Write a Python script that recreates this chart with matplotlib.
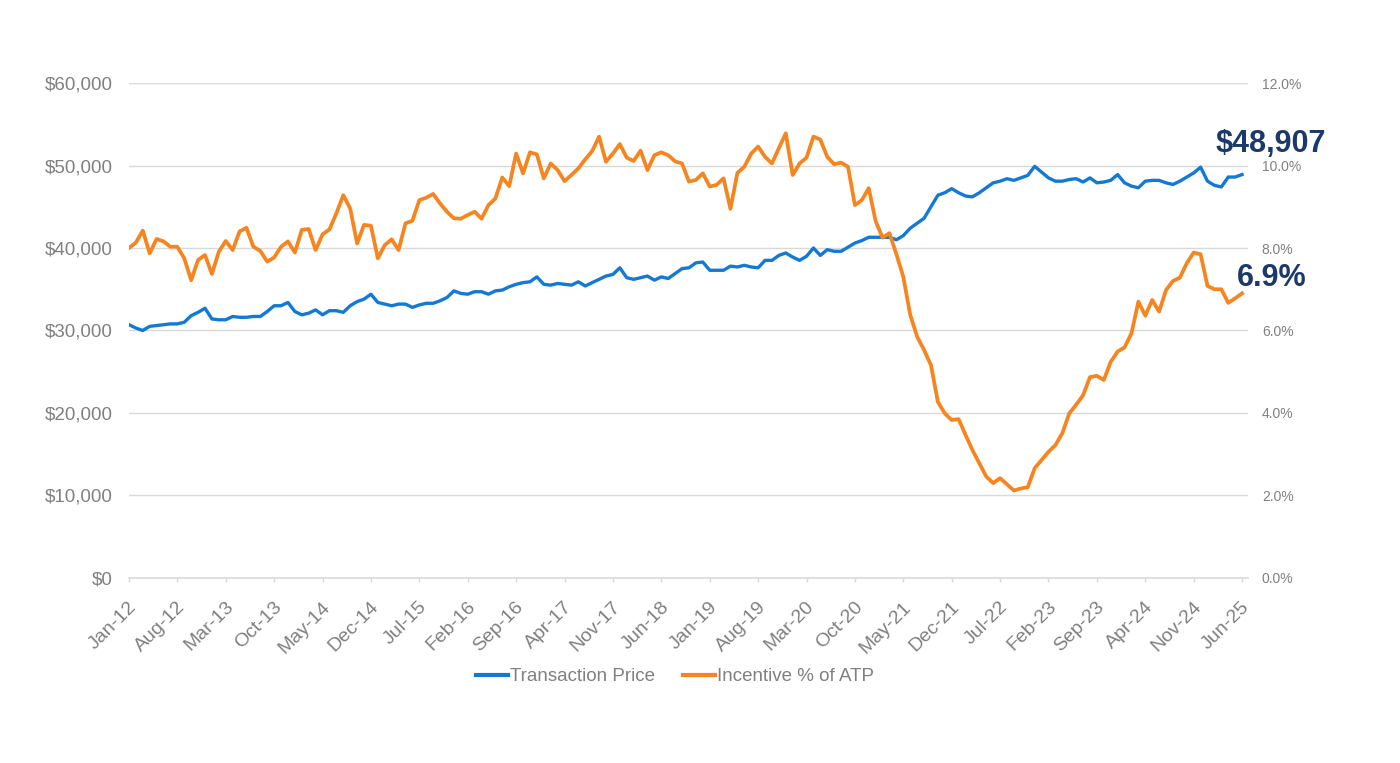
import numpy as np
import pandas as pd
import matplotlib
matplotlib.use("Agg")
import matplotlib.pyplot as plt
import matplotlib.transforms as mtransforms
from matplotlib.ticker import FuncFormatter

plt.rcParams['font.family'] = ['Liberation Sans', 'DejaVu Sans']

# monthly, Jan-12 .. Jun-25
months = pd.date_range("2012-01-01", periods=162, freq="MS")

# average transaction price, $ thousands
atp_k = [
    30.7, 30.3, 30.0, 30.5, 30.6, 30.7, 30.8, 30.8, 31.0, 31.8,
    32.2, 32.7, 31.4, 31.3, 31.3, 31.7, 31.6, 31.6, 31.7, 31.7,
    32.3, 33.0, 33.0, 33.4, 32.3, 31.9, 32.1, 32.5, 31.9, 32.4,
    32.4, 32.2, 33.0, 33.5, 33.8, 34.4, 33.4, 33.2, 33.0, 33.2,
    33.2, 32.8, 33.1, 33.3, 33.3, 33.6, 34.0, 34.8, 34.5, 34.4,
    34.7, 34.7, 34.4, 34.8, 34.9, 35.3, 35.6, 35.8, 35.9, 36.5,
    35.6, 35.5, 35.7, 35.6, 35.5, 35.9, 35.4, 35.8, 36.2, 36.6,
    36.8, 37.6, 36.4, 36.2, 36.4, 36.6, 36.1, 36.5, 36.3, 36.9,
    37.5, 37.6, 38.2, 38.3, 37.3, 37.3, 37.3, 37.8, 37.7, 37.9,
    37.7, 37.6, 38.5, 38.5, 39.1, 39.4, 38.9, 38.5, 39.0, 40.0,
    39.1, 39.8, 39.6, 39.6, 40.1, 40.6, 40.9, 41.3, 41.3, 41.3,
    41.3, 41.0, 41.5, 42.4, 43.0, 43.6, 45.0, 46.4, 46.7, 47.2,
    46.7, 46.3, 46.2, 46.7, 47.3, 47.9, 48.1, 48.4, 48.2, 48.5,
    48.8, 49.9, 49.2, 48.5, 48.1, 48.1, 48.3, 48.4, 48.0, 48.5,
    47.9, 48.0, 48.2, 48.9, 47.9, 47.5, 47.3, 48.1, 48.2, 48.2,
    47.9, 47.7, 48.1, 48.6, 49.1, 49.8, 48.1, 47.6, 47.4, 48.6,
    48.6, 48.907,
]

# incentive spend as % of ATP
incentive_pct = [
    8.00, 8.13, 8.42, 7.87, 8.22, 8.16, 8.03, 8.03, 7.75, 7.22,
    7.71, 7.83, 7.37, 7.91, 8.17, 7.95, 8.40, 8.49, 8.03, 7.93,
    7.67, 7.77, 8.03, 8.16, 7.89, 8.44, 8.46, 7.95, 8.33, 8.45,
    8.84, 9.28, 8.96, 8.11, 8.56, 8.54, 7.75, 8.07, 8.21, 7.95,
    8.60, 8.66, 9.16, 9.22, 9.31, 9.08, 8.88, 8.72, 8.71, 8.80,
    8.88, 8.71, 9.04, 9.20, 9.71, 9.50, 10.29, 9.81, 10.32, 10.27,
    9.69, 10.05, 9.89, 9.62, 9.77, 9.93, 10.15, 10.35, 10.70, 10.09,
    10.29, 10.52, 10.19, 10.11, 10.36, 9.89, 10.25, 10.32, 10.25, 10.10,
    10.05, 9.61, 9.65, 9.81, 9.49, 9.53, 9.69, 8.95, 9.82, 9.97,
    10.29, 10.46, 10.21, 10.05, 10.42, 10.78, 9.77, 10.05, 10.19, 10.70,
    10.63, 10.21, 10.03, 10.07, 9.97, 9.04, 9.16, 9.45, 8.65, 8.25,
    8.36, 7.85, 7.30, 6.38, 5.85, 5.53, 5.16, 4.27, 3.99, 3.83,
    3.85, 3.47, 3.10, 2.78, 2.46, 2.30, 2.42, 2.27, 2.12, 2.17,
    2.20, 2.66, 2.86, 3.06, 3.22, 3.51, 3.99, 4.20, 4.43, 4.87,
    4.90, 4.80, 5.24, 5.49, 5.59, 5.93, 6.70, 6.36, 6.74, 6.46,
    6.98, 7.20, 7.28, 7.63, 7.89, 7.85, 7.08, 7.00, 7.00, 6.67,
    6.78, 6.90,
]

atp_label = "$48,907"
inc_label = "6.9%"

BLUE = "#1379D6"
ORANGE = "#F6851F"
NAVY = "#1B3A6B"
GRAY = "#808080"
GRID = "#D9D9D9"

x = np.arange(len(months))
atp = np.array(atp_k) * 1000
inc = np.array(incentive_pct) / 100

fig = plt.figure(figsize=(14, 7.63), dpi=100)
ax = fig.add_axes([0.0921, 0.2425, 0.7993, 0.6487])
ax2 = ax.twinx()

l1, = ax.plot(x, atp, color=BLUE, lw=2.4, solid_joinstyle="round", zorder=3)
l2, = ax2.plot(x, inc, color=ORANGE, lw=2.7, solid_joinstyle="round", zorder=3)

ax.set_xlim(0, 161.85)
ax.set_ylim(0, 60000)
ax2.set_ylim(0, 0.12)
ax.set_yticks(np.arange(0, 60001, 10000))
ax2.set_yticks(np.arange(0, 0.1201, 0.02))
ax.yaxis.set_major_formatter(FuncFormatter(lambda v, p: f"${v:,.0f}"))
ax2.yaxis.set_major_formatter(FuncFormatter(lambda v, p: f"{v*100:.1f}%"))

ax.grid(axis="y", color=GRID, lw=1.0, zorder=0)
ax.set_axisbelow(True)

for a in (ax, ax2):
    for s in ("top", "left", "right", "bottom"):
        a.spines[s].set_visible(False)
ax.spines["bottom"].set_visible(True)
ax.spines["bottom"].set_color(GRID)
ax.spines["bottom"].set_linewidth(1.2)

tick_pos = x[::7]
ax.set_xticks(tick_pos)
ax.set_xticklabels([d.strftime("%b-%y") for d in months[::7]],
                   rotation=45, ha="right", va="center", rotation_mode="anchor")
ax.tick_params(axis="x", length=3, width=1.0, color=GRID, pad=16,
               labelsize=14, labelcolor=GRAY)
shift = mtransforms.ScaledTranslation(5 / 100, 0, fig.dpi_scale_trans)
for lab in ax.get_xticklabels():
    lab.set_transform(lab.get_transform() + shift)

ax.tick_params(axis="y", length=0, pad=11.5, labelsize=13.5, labelcolor=GRAY)
ax2.tick_params(axis="y", length=0, pad=10, labelsize=10, labelcolor=GRAY)

ax.annotate(atp_label, xy=(x[-1], atp[-1]), xytext=(21, 22),
            textcoords="offset points", ha="center", va="center",
            fontsize=22, fontweight="bold", color=NAVY, annotation_clip=False)
ax2.annotate(inc_label, xy=(x[-1], inc[-1]), xytext=(21, 11),
             textcoords="offset points", ha="center", va="center",
             fontsize=22, fontweight="bold", color=NAVY, annotation_clip=False)

leg = fig.legend([l1, l2], ["Transaction Price", "Incentive % of ATP"],
                 loc="center", bbox_to_anchor=(0.482, 0.113), ncol=2,
                 frameon=False, fontsize=13.5, handlelength=1.7,
                 handletextpad=0.1, columnspacing=1.5)
for t in leg.get_texts():
    t.set_color(GRAY)
for h in leg.legend_handles:
    h.set_linewidth(3)

fig.savefig("out.png", dpi=100, facecolor="white")
